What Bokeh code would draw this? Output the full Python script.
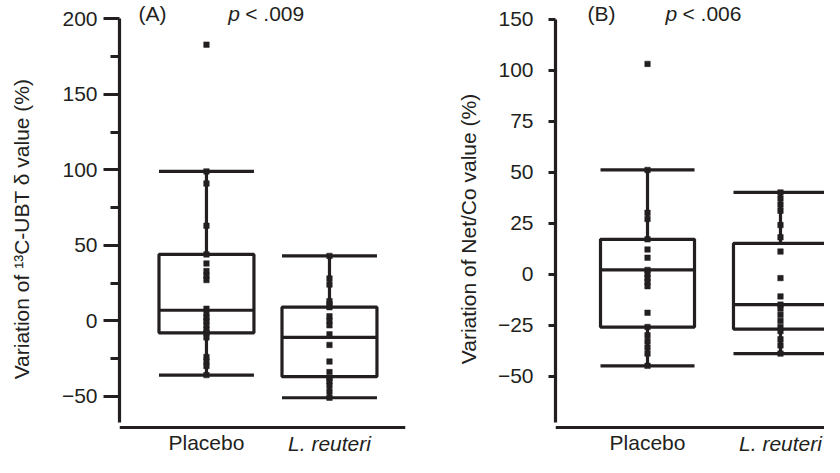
from bokeh.plotting import figure
from bokeh.models import Range1d, FixedTicker, Label, ColumnDataSource, LinearAxis
from bokeh.core.properties import value
from bokeh.layouts import row
from bokeh.embed import file_html
from bokeh.resources import INLINE

FONT = "Liberation Sans"
INK = "#231f20"

categories = ["Placebo", "L. reuteri"]

# ---- Panel A: 13C-UBT delta value variation (%)
a_whisker_low = [-36, -51]
a_q1 = [-8, -37]
a_median = [7, -11]
a_q3 = [44, 9]
a_whisker_high = [99, 43]
a_points_placebo = [183, 99, 91, 63, 44, 38, 33, 30, 27, 8, 5, 2, 0, -3, -6, -8, -11, -24, -27, -30, -36]
a_points_reuteri = [43, 28, 24, 13, 11, 9, 3, 0, -3, -9, -16, -27, -34, -38, -40, -43, -47, -51]
a_tick_values = [-50, 0, 50, 100, 150, 200]
a_tick_labels = ["\u221250", "0", "50", "100", "150", "200"]
a_minor_ticks = [-25, 25, 75, 125, 175]
a_long_ticks = []
a_ylabel = "Variation of \u00b9\u00b3C-UBT \u03b4 value (%)"
a_p_text = "< .009"

# ---- Panel B: Net/Co value variation (%)
b_whisker_low = [-45, -39]
b_q1 = [-26, -27]
b_median = [2, -15]
b_q3 = [17, 15]
b_whisker_high = [51, 40]
b_points_placebo = [103, 51, 30, 27, 17, 12, 8, 2, 0, -2, -4, -6, -19, -26, -30, -33, -36, -39, -45]
b_points_reuteri = [40, 37, 34, 31, 24, 18, 11, -2, -11, -15, -17, -20, -23, -26, -28, -32, -35, -39]
# axis is broken above 100: the top tick (drawn one step up) reads 150
b_tick_values = [-50, -25, 0, 25, 50, 75, 100, 125]
b_tick_labels = ["\u221250", "\u221225", "0", "25", "50", "75", "100", "150"]
b_minor_ticks = []
b_long_ticks = [-50, 0, 50, 100]
b_ylabel = "Variation of Net/Co value (%)"
b_p_text = "< .006"


def make_panel(tag, p_text, ylabel, wl, q1, med, q3, wh, pts_lists,
               tick_values, tick_labels, minor_ticks, long_ticks,
               width, y_range, y_axis_line, y_bounds, x_range, box_w,
               border_left, border_right,
               tick_out, minor_out, long_out, tick_standoff, label_standoff,
               tag_x, p_x, text_y):
    p = figure(width=width, height=457, output_backend="svg", toolbar_location=None,
               x_range=Range1d(*x_range), y_range=Range1d(*y_range),
               min_border_left=border_left, min_border_right=border_right,
               min_border_top=0, min_border_bottom=0)
    p.outline_line_color = None
    p.xgrid.visible = False
    p.ygrid.visible = False
    p.background_fill_color = "white"

    xs = [i + 1 for i in range(len(categories))]
    half = box_w / 2
    src = ColumnDataSource(dict(
        x=xs, left=[x - half for x in xs], right=[x + half for x in xs],
        wl=wl, q1=q1, med=med, q3=q3, wh=wh))

    lw = 3.2
    p.quad(left="left", right="right", bottom="q1", top="q3", source=src,
           fill_color=None, line_color=INK, line_width=lw)
    p.segment(x0="left", x1="right", y0="med", y1="med", source=src,
              line_color=INK, line_width=lw)
    p.segment(x0="x", x1="x", y0="q3", y1="wh", source=src, line_color=INK, line_width=lw)
    p.segment(x0="x", x1="x", y0="wl", y1="q1", source=src, line_color=INK, line_width=lw)
    p.segment(x0="left", x1="right", y0="wh", y1="wh", source=src, line_color=INK, line_width=lw)
    p.segment(x0="left", x1="right", y0="wl", y1="wl", source=src, line_color=INK, line_width=lw)

    px, py = [], []
    for x, vals in zip(xs, pts_lists):
        px += [x] * len(vals)
        py += vals
    p.scatter(px, py, marker="square", size=5.5, fill_color=INK, line_color=INK, line_width=0.5)

    # y axis
    ya = p.yaxis[0]
    ya.ticker = FixedTicker(ticks=tick_values, minor_ticks=minor_ticks)
    ya.major_label_overrides = {v: t for v, t in zip(tick_values, tick_labels)}
    ya.bounds = y_bounds
    ya.axis_line_width = 3.2
    ya.axis_line_color = INK
    ya.major_tick_line_width = 3
    ya.major_tick_line_color = INK
    ya.major_tick_out = tick_out
    ya.major_tick_in = 0
    ya.minor_tick_line_width = 3
    ya.minor_tick_line_color = INK if minor_ticks else None
    ya.minor_tick_out = minor_out
    ya.minor_tick_in = 0
    ya.major_label_standoff = tick_standoff
    ya.major_label_text_font = FONT
    ya.major_label_text_font_size = "21px"
    ya.major_label_text_color = INK
    ya.axis_label = ylabel
    ya.axis_label_text_font = FONT
    ya.axis_label_text_font_size = "21px"
    ya.axis_label_text_font_style = "normal"
    ya.axis_label_text_color = INK
    ya.axis_label_standoff = label_standoff

    if long_ticks:
        ya2 = LinearAxis(ticker=FixedTicker(ticks=long_ticks, minor_ticks=[]),
                         fixed_location=x_range[0], bounds=y_bounds,
                         major_label_overrides={v: "" for v in long_ticks},
                         axis_line_color=None, minor_tick_line_color=None,
                         major_tick_line_color=INK, major_tick_line_width=3,
                         major_tick_out=long_out, major_tick_in=0,
                         major_label_text_font_size="0px")
        p.add_layout(ya2, "left")

    # x axis, placed at its data location so the labels under it sit inside the frame
    xa = p.xaxis[0]
    xa.fixed_location = y_axis_line
    xa.ticker = FixedTicker(ticks=xs, minor_ticks=[])
    xa.major_label_overrides = {xs[0]: categories[0], xs[1]: ""}
    xa.axis_line_width = 3.2
    xa.axis_line_color = INK
    xa.major_tick_line_color = None
    xa.minor_tick_line_color = None
    xa.major_tick_out = 0
    xa.major_tick_in = 0
    xa.major_label_standoff = 3
    xa.major_label_text_font = FONT
    xa.major_label_text_font_size = "21px"
    xa.major_label_text_color = INK

    # italic species name under its category
    p.text(x=[xs[1]], y=[y_axis_line], text=[categories[1]], y_offset=4,
           text_font=value(FONT), text_font_size="21px", text_font_style="italic",
           text_color=INK, text_align="center", text_baseline="top")

    # panel tag and p-value
    p.add_layout(Label(x=tag_x, y=text_y, text=tag, text_font=FONT, text_font_size="21px",
                       text_color=INK, text_align="left", text_baseline="middle"))
    p.add_layout(Label(x=p_x, y=text_y, text="p", text_font=FONT, text_font_size="21px",
                       text_font_style="italic", text_color=INK,
                       text_align="left", text_baseline="middle"))
    p.add_layout(Label(x=p_x, y=text_y, x_offset=17, text=p_text, text_font=FONT,
                       text_font_size="21px", text_color=INK,
                       text_align="left", text_baseline="middle"))
    return p


pa = make_panel("(A)", a_p_text, a_ylabel, a_whisker_low, a_q1, a_median, a_q3, a_whisker_high,
                [a_points_placebo, a_points_reuteri], a_tick_values, a_tick_labels, a_minor_ticks,
                a_long_ticks, width=420,
                y_range=(-90.6, 212.26), y_axis_line=-70.75, y_bounds=(-67.4, 200),
                x_range=(0.293, 2.618), box_w=0.772, border_left=119, border_right=15,
                tick_out=16, minor_out=9, long_out=0, tick_standoff=6, label_standoff=26,
                tag_x=0.447, p_x=1.177, text_y=203.7)

pb = make_panel("(B)", b_p_text, b_ylabel, b_whisker_low, b_q1, b_median, b_q3, b_whisker_high,
                [b_points_placebo, b_points_reuteri], b_tick_values, b_tick_labels, b_minor_ticks,
                b_long_ticks, width=404,
                y_range=(-89.95, 134.07), y_axis_line=-75.25, y_bounds=(-72.8, 125),
                x_range=(0.308, 2.331), box_w=0.707, border_left=135, border_right=0,
                tick_out=7, minor_out=0, long_out=14, tick_standoff=15, label_standoff=15,
                tag_x=0.549, p_x=1.135, text_y=127.75)

layout = row(pa, pb)
open("out.html", "w").write(file_html(layout, INLINE))
